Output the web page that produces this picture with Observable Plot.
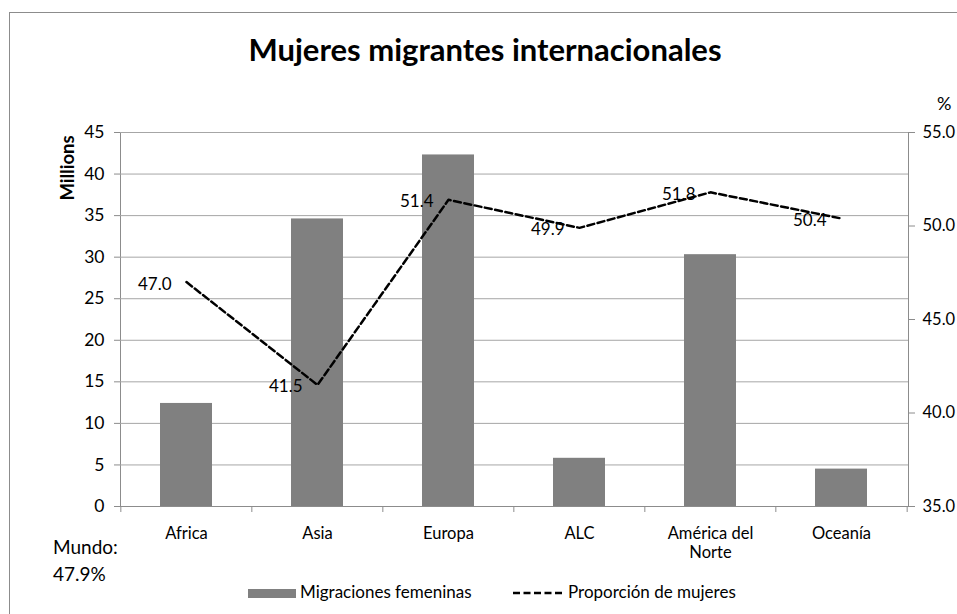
<!DOCTYPE html>
<html>
<head>
<meta charset="utf-8">
<script src="https://cdn.jsdelivr.net/npm/d3@7"></script>
<script src="https://cdn.jsdelivr.net/npm/@observablehq/plot@0.6"></script>
<style>
  html, body { margin: 0; padding: 0; background: #fff; }
  #chart { width: 957px; height: 614px; overflow: hidden; }
</style>
</head>
<body>
<div id="chart"></div>
<script>
// ---- data ----
const regions = ["Africa", "Asia", "Europa", "ALC", "América del Norte", "Oceanía"];
const regionLabels = ["Africa", "Asia", "Europa", "ALC", "América del\nNorte", "Oceanía"];
const womenMillions = [12.4, 34.6, 42.3, 5.8, 30.3, 4.5];
const womenShare = [47.0, 41.5, 51.4, 49.9, 51.8, 50.4];
const leftTicks = [0, 5, 10, 15, 20, 25, 30, 35, 40, 45];
const rightTicks = [35, 40, 45, 50, 55];
const worldShare = "47.9%";
const titleText = "Mujeres migrantes internacionales";
const seriesNames = ["Migraciones femeninas", "Proporción de mujeres"];

const rows = regions.map((r, i) => ({region: r, label: regionLabels[i], millions: womenMillions[i], pct: womenShare[i]}));

// secondary axis mapping: 35..55 % onto 0..45 millions
const yMax = 45, pMin = 35, pMax = 55;
const toY = p => (p - pMin) * yMax / (pMax - pMin);
const fromY = v => v * (pMax - pMin) / yMax + pMin;

const W = 957, H = 614;
const mL = 120, mR = 49, mT = 132, mB = 108;
const step = (W - mL - mR) / regions.length;
const axisGray = "#8c8c8c", gridGray = "#a6a6a6", barGray = "#808080";
const dash = "7,3.5";
const ff = "Lato, sans-serif";

const svg = Plot.plot({
  width: W, height: H,
  marginLeft: mL, marginRight: mR, marginTop: mT, marginBottom: mB,
  style: {fontFamily: ff, fontSize: "17px", color: "#000", background: "transparent"},
  x: {domain: regions, paddingInner: 0.6, paddingOuter: 0.3, label: null},
  y: {domain: [0, yMax], label: null},
  marks: [
    Plot.frame({stroke: axisGray}),
    Plot.gridY(leftTicks.filter(d => d > 0), {stroke: gridGray, strokeOpacity: 1}),
    Plot.barY(rows, {x: "region", y: "millions", fill: barGray}),
    Plot.ruleY([0], {stroke: axisGray}),
    Plot.ruleX(regions, {x: d => d, y1: 0, y2: 0, insetBottom: -6, dx: -step / 2, stroke: axisGray}),
    Plot.ruleX([regions[regions.length - 1]], {x: d => d, y1: 0, y2: 0, insetBottom: -6, dx: step / 2, stroke: axisGray}),
    Plot.axisY(leftTicks, {anchor: "left", tickSize: 6, tickPadding: 10, stroke: axisGray, fill: "#000", label: null, fontSize: 17.5}),
    Plot.axisY(rightTicks.map(toY), {anchor: "right", tickSize: 6, tickPadding: 8, stroke: axisGray, fill: "#000", label: null, fontSize: 16.5,
      tickFormat: v => fromY(v).toFixed(1)}),
    Plot.axisX({anchor: "bottom", tickSize: 0, tickPadding: 18, label: null, fill: "#000", fontSize: 16.5, lineHeight: 1.2,
      tickFormat: d => regionLabels[regions.indexOf(d)]}),
    Plot.text(rows, {x: "region", y: d => toY(d.pct), text: d => d.pct.toFixed(1), textAnchor: "end", dx: -15, dy: 2, fontSize: 17, fill: "#000"}),
    Plot.line(rows, {x: "region", y: d => toY(d.pct), stroke: "#000", strokeWidth: 2.5, strokeDasharray: dash})
  ]
});

document.getElementById("chart").appendChild(svg);

// ---- annotations (title, axis titles, note, legend) ----
const s = d3.select(svg);
s.insert("rect", ":first-child")
  .attr("x", 9.5).attr("y", 12.5).attr("width", 1200).attr("height", 1200)
  .attr("fill", "none").attr("stroke", axisGray);
const g = s.append("g").attr("font-family", ff).attr("fill", "#000").attr("text-anchor", "start");
g.append("text").attr("x", 485).attr("y", 61).attr("text-anchor", "middle")
  .attr("font-weight", "bold").attr("font-size", 31).text(titleText);
g.append("text").attr("transform", "translate(74,168) rotate(-90)").attr("text-anchor", "middle")
  .attr("font-weight", "bold").attr("font-size", 18.5).text("Millions");
g.append("text").attr("x", 937).attr("y", 110).attr("font-size", 18).text("%");
g.append("text").attr("x", 53).attr("y", 554).attr("font-size", 19).text("Mundo:");
g.append("text").attr("x", 53).attr("y", 581).attr("font-size", 19).text(worldShare);
// legend
g.append("rect").attr("x", 248).attr("y", 589).attr("width", 48).attr("height", 9).attr("fill", barGray);
g.append("text").attr("x", 300).attr("y", 598).attr("font-size", 17).text(seriesNames[0]);
g.append("line").attr("x1", 513).attr("x2", 563).attr("y1", 593).attr("y2", 593)
  .attr("stroke", "#000").attr("stroke-width", 2.5).attr("stroke-dasharray", dash);
g.append("text").attr("x", 568).attr("y", 598).attr("font-size", 17).text(seriesNames[1]);
</script>
</body>
</html>
